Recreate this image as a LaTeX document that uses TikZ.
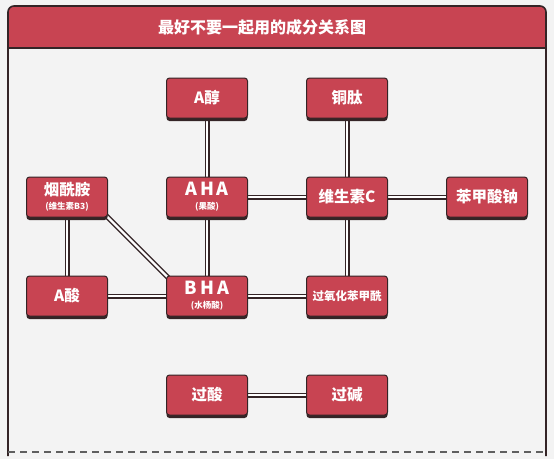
\documentclass[tikz,border=0pt]{standalone}
\usepackage{fontspec}
\setmainfont{Noto Sans CJK SC}
\usetikzlibrary{positioning,shadows,backgrounds}
\definecolor{pairRed}{RGB}{200,68,82}
\definecolor{pairDark}{RGB}{52,36,38}
\definecolor{pairPaper}{RGB}{243,243,243}
\definecolor{pairDash}{RGB}{95,95,95}

\begin{document}
\begin{tikzpicture}[
  x=1pt,y=1pt,
  item/.style={
    draw=pairDark,
    line width=1pt,
    fill=pairRed,
    rounded corners=3pt,
    minimum width=81pt,
    minimum height=40pt,
    inner sep=0pt,
    align=center,
    text=white,
    font=\bfseries\fontsize{15.5}{17}\selectfont,
    drop shadow={shadow xshift=0pt,shadow yshift=-3pt,fill=pairDark,opacity=1}
  },
  link/.style={draw=pairDark,line width=1.3pt,double=white,double distance=2.4pt},
  node distance=58pt and 58pt
]
  \useasboundingbox (0,0) rectangle (554,-459);
  % nodes
  \node[item] (aha) at (207,-197)
    {\fontsize{18}{19}\selectfont A\,H\,A\\[-3pt]{\fontsize{8.5}{9}\selectfont (果酸)}};
  \node[item,above=of aha] (aalc) {A醇};
  \node[item,left=of aha] (nia)
    {烟酰胺\\[-3pt]{\fontsize{8.5}{9}\selectfont (维生素B3)}};
  \node[item,below=of aha] (bha)
    {\fontsize{18}{19}\selectfont B\,H\,A\\[-3pt]{\fontsize{8.5}{9}\selectfont (水杨酸)}};
  \node[item,left=of bha] (aacid) {A酸};
  \node[item,right=of aha] (vc) {维生素C};
  \node[item,above=of vc] (cu) {铜肽};
  \node[item,right=of vc] (sb) {苯甲酸钠};
  \node[item,below=of vc,font=\bfseries\fontsize{11.5}{13}\selectfont] (bpo) {过氧化苯甲酰};
  \node[item,below=of bha] (peracid) {过酸};
  \node[item,below=of bpo] (peralk) {过碱};
  \node[text=white,font=\bfseries\fontsize{16}{18}\selectfont] (title) at (262,-27)
    {最好不要一起用的成分关系图};

  \begin{scope}[on background layer]
    \fill[pairPaper] (0,0) rectangle (554,-459);
    \fill[pairRed,rounded corners=6pt] (8,-6) rectangle (546,-48);
    \fill[pairRed] (8,-30) rectangle (546,-48);
    \draw[pairDark,line width=1.6pt,rounded corners=6pt] (8,-456) -- (8,-6) -- (546,-6) -- (546,-456);
    \draw[pairDark,line width=1.6pt] (8,-48) -- (546,-48);
    \draw[pairDash,line width=1.8pt,dash pattern=on 7pt off 5pt] (8,-452) -- (546,-452);
    % links
    \draw[link] (aalc) -- (aha);
    \draw[link] (cu) -- (vc);
    \draw[link] (aha) -- (vc);
    \draw[link] (vc) -- (sb);
    \draw[link] (nia) -- (aacid);
    \draw[link] ([shift={(-3pt,3pt)}]nia.south east) -- ([shift={(3pt,-3pt)}]bha.north west);
    \draw[link] (aha) -- (bha);
    \draw[link] (aacid) -- (bha);
    \draw[link] (bha) -- (bpo);
    \draw[link] (vc) -- (bpo);
    \draw[link] (peracid) -- (peralk);
  \end{scope}
\end{tikzpicture}
\end{document}
